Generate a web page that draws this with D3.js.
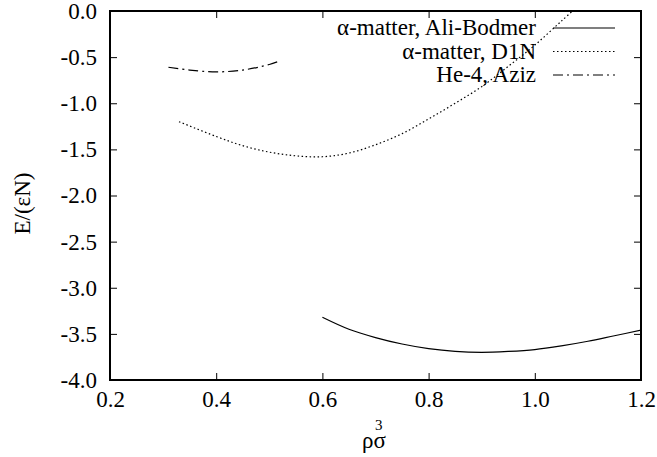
<!DOCTYPE html>
<html>
<head>
<meta charset="utf-8">
<script src="https://cdn.jsdelivr.net/npm/d3@7"></script>
<style>
  body { margin: 0; background: #fff; }
  svg text { font-family: "Liberation Serif", "Times New Roman", serif; fill: #000; }
</style>
</head>
<body>
<svg width="657" height="457"></svg>
<script>
// data
const xTicks = [0.2, 0.4, 0.6, 0.8, 1.0, 1.2];
const yTicks = [0.0, -0.5, -1.0, -1.5, -2.0, -2.5, -3.0, -3.5, -4.0];

const bodmerX = [0.60, 0.65, 0.70, 0.75, 0.80, 0.85, 0.90, 0.95, 1.00, 1.05, 1.10, 1.15, 1.20];
const bodmerY = [-3.32, -3.45, -3.54, -3.61, -3.66, -3.69, -3.70, -3.69, -3.67, -3.63, -3.58, -3.52, -3.46];

const d1nX = [0.33, 0.40, 0.45, 0.50, 0.55, 0.60, 0.65, 0.70, 0.75, 0.80, 0.85, 0.90, 0.95, 1.00, 1.05, 1.09];
const d1nY = [-1.20, -1.36, -1.46, -1.53, -1.57, -1.58, -1.54, -1.45, -1.33, -1.17, -1.00, -0.82, -0.60, -0.37, -0.11, 0.10];

const azizX = [0.31, 0.35, 0.40, 0.45, 0.50, 0.52];
const azizY = [-0.61, -0.64, -0.66, -0.64, -0.58, -0.54];

const seriesNames = ["α-matter, Ali-Bodmer", "α-matter, D1N", "He-4, Aziz"];
const dashes = [null, "1.5 2.5", "10 4 2 4"];

const margin = { top: 11, right: 16, bottom: 77, left: 110 };
const width = 657 - margin.left - margin.right;
const height = 457 - margin.top - margin.bottom;
const fontSize = 23;
const serif = "'Liberation Serif', 'Times New Roman', serif";
const fmt = d => d.toFixed(1);

const svg = d3.select("svg")
    .append("g")
    .attr("transform", `translate(${margin.left}, ${margin.top})`);

const x = d3.scaleLinear().domain([0.2, 1.2]).range([0, width]);
const y = d3.scaleLinear().domain([-4, 0]).range([height, 0]);

svg.append("clipPath").attr("id", "clip")
    .append("rect").attr("width", width).attr("height", height);

// axes: ticks inward, mirrored on top / right
const tickLen = 7;
const axes = [
    { g: svg.append("g").attr("transform", `translate(0,${height})`), ax: d3.axisBottom(x).tickValues(xTicks).tickSizeInner(-tickLen).tickSizeOuter(0).tickPadding(11).tickFormat(fmt) },
    { g: svg.append("g"), ax: d3.axisTop(x).tickValues(xTicks).tickSizeInner(-tickLen).tickSizeOuter(0).tickFormat("") },
    { g: svg.append("g"), ax: d3.axisLeft(y).tickValues(yTicks).tickSizeInner(-tickLen).tickSizeOuter(0).tickPadding(13).tickFormat(fmt) },
    { g: svg.append("g").attr("transform", `translate(${width},0)`), ax: d3.axisRight(y).tickValues(yTicks).tickSizeInner(-tickLen).tickSizeOuter(0).tickFormat("") }
];
axes.forEach(a => {
    a.g.call(a.ax)
        .attr("font-family", serif)
        .attr("font-size", fontSize);
    a.g.select(".domain").remove();
    a.g.selectAll("line").attr("stroke", "#000").attr("stroke-width", 1);
    a.g.selectAll("text").attr("fill", "#000");
});

// frame
svg.append("rect")
    .attr("width", width).attr("height", height)
    .attr("fill", "none").attr("stroke", "#000").attr("stroke-width", 2);

// curves
const line = d3.line()
    .x(d => x(d[0]))
    .y(d => y(d[1]))
    .curve(d3.curveCatmullRom);

const series = [
    d3.zip(bodmerX, bodmerY),
    d3.zip(d1nX, d1nY),
    d3.zip(azizX, azizY)
];

const curves = svg.append("g").attr("clip-path", "url(#clip)");
series.forEach((pts, i) => {
    curves.append("path")
        .datum(pts)
        .attr("fill", "none")
        .attr("stroke", "#000")
        .attr("stroke-width", 1.2)
        .attr("stroke-dasharray", dashes[i])
        .attr("d", line);
});

// legend
const legend = svg.append("g");
seriesNames.forEach((name, i) => {
    const ly = 17 + i * 23.5;
    legend.append("text")
        .attr("x", 426)
        .attr("y", ly + 7)
        .attr("text-anchor", "end")
        .style("font-size", `${fontSize}px`)
        .text(name);
    legend.append("line")
        .attr("x1", 443).attr("x2", 505)
        .attr("y1", ly).attr("y2", ly)
        .attr("stroke", "#000")
        .attr("stroke-width", 1.2)
        .attr("stroke-dasharray", dashes[i]);
});

// axis labels
svg.append("text")
    .attr("transform", `translate(${22 - margin.left},${height / 2 + 8}) rotate(-90)`)
    .attr("text-anchor", "middle")
    .attr("dy", "0.35em")
    .style("font-size", `${fontSize}px`)
    .text("E/(εN)");

svg.append("text")
    .attr("x", 362 - margin.left)
    .attr("y", 448 - margin.top)
    .style("font-size", `${fontSize}px`)
    .text("ρσ");
svg.append("text")
    .attr("x", 375 - margin.left)
    .attr("y", 430 - margin.top)
    .style("font-size", "15px")
    .text("3");
</script>
</body>
</html>
